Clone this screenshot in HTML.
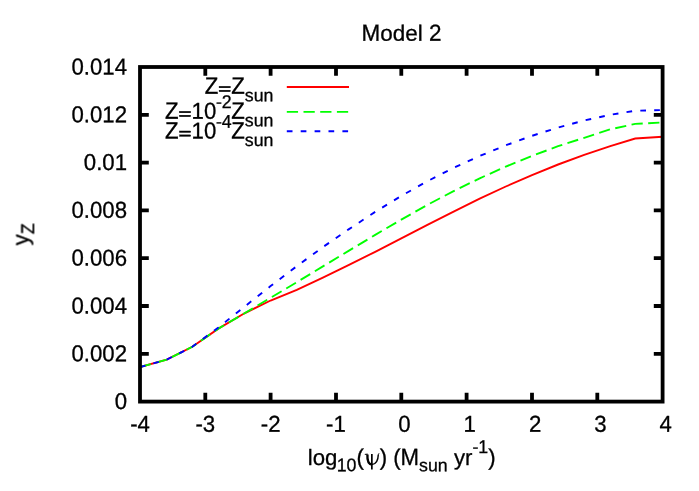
<!DOCTYPE html>
<html><head><meta charset="utf-8"><title>Model 2</title>
<style>
html,body{margin:0;padding:0;background:#fff;}
body{width:699px;height:491px;overflow:hidden;font-family:"Liberation Sans",sans-serif;}
svg{display:block;will-change:transform;}
text{font-kerning:none;white-space:pre;text-rendering:geometricPrecision;}
</style></head><body>
<svg width="699" height="491" viewBox="0 0 699 491">
<defs><clipPath id="c"><rect x="140.0" y="67.0" width="522.6" height="334.6"/></clipPath></defs>
<rect x="0" y="0" width="699" height="491" fill="#fff"/>
<g fill="none" stroke-width="1.9" clip-path="url(#c)">
<path d="M140.0,367.1 L166.7,359.6 L192.3,346.8 L218.4,328.6 L244.5,313.3 L270.6,300.5 L296.8,289.8 L322.9,277.6 L349.0,264.9 L375.2,251.8 L401.3,238.4 L427.4,224.9 L453.6,211.6 L479.7,198.7 L505.8,186.5 L532.0,175.1 L558.1,164.5 L584.2,154.9 L610.3,146.2 L635.2,138.5 L662.6,136.8" stroke="#ff0000"/>
<path d="M140.0,367.1 L166.7,359.6 L192.3,346.8 L218.4,328.6 L244.5,313.3 L270.6,297.8 L296.8,282.2 L322.9,266.4 L349.0,250.6 L375.2,234.9 L401.3,219.6 L427.4,204.9 L453.6,191.1 L479.7,178.3 L505.8,166.6 L532.0,155.9 L558.1,146.2 L584.2,137.8 L610.3,129.3 L635.2,123.9 L662.6,122.5" stroke="#00ff00" stroke-dasharray="11.26 5.44"/>
<path d="M140.0,367.1 L166.7,359.6 L192.3,346.8 L218.4,327.4 L244.5,306.7 L270.6,286.1 L296.8,266.2 L322.9,247.1 L349.0,229.1 L375.2,211.9 L401.3,195.9 L427.4,181.2 L453.6,167.9 L479.7,156.0 L505.8,145.3 L532.0,135.8 L558.1,127.5 L584.2,120.5 L610.3,114.8 L635.2,110.7 L662.6,110.1" stroke="#0000ff" stroke-dasharray="5.7 8.2"/>
</g>
<g fill="none" stroke-width="1.9">
<path d="M286.8,86.95 H349" stroke="#ff0000"/>
<path d="M286.8,111.9 H349" stroke="#00ff00" stroke-dasharray="11.26 5.44"/>
<path d="M286.8,131.3 H349" stroke="#0000ff" stroke-dasharray="5.7 8.2"/>
</g>
<g stroke="#000" stroke-width="3.80" fill="none" stroke-linecap="butt">
<rect x="140.0" y="67.0" width="522.6" height="334.6"/>
<path d="M205.3,401.6 V392.8 M205.3,67.0 V75.8"/>
<path d="M270.6,401.6 V392.8 M270.6,67.0 V75.8"/>
<path d="M336.0,401.6 V392.8 M336.0,67.0 V75.8"/>
<path d="M401.3,401.6 V392.8 M401.3,67.0 V75.8"/>
<path d="M466.6,401.6 V392.8 M466.6,67.0 V75.8"/>
<path d="M532.0,401.6 V392.8 M532.0,67.0 V75.8"/>
<path d="M597.3,401.6 V392.8 M597.3,67.0 V75.8"/>
<path d="M140.0,353.8 H148.8 M662.6,353.8 H653.8"/>
<path d="M140.0,306.0 H148.8 M662.6,306.0 H653.8"/>
<path d="M140.0,258.2 H148.8 M662.6,258.2 H653.8"/>
<path d="M140.0,210.4 H148.8 M662.6,210.4 H653.8"/>
<path d="M140.0,162.6 H148.8 M662.6,162.6 H653.8"/>
<path d="M140.0,114.8 H148.8 M662.6,114.8 H653.8"/>
</g>
<g opacity="0.999" font-family="'Liberation Sans', sans-serif" font-size="22.2" fill="#000" stroke="#000" stroke-width="0.3">
<g transform="translate(140.00,431.80)"><text transform="translate(-9.87,0.00) rotate(0.05) scale(1,1.035)" font-size="22.20">-4</text></g>
<g transform="translate(205.32,431.80)"><text transform="translate(-9.87,0.00) rotate(0.05) scale(1,1.035)" font-size="22.20">-3</text></g>
<g transform="translate(270.65,431.80)"><text transform="translate(-9.87,0.00) rotate(0.05) scale(1,1.035)" font-size="22.20">-2</text></g>
<g transform="translate(335.98,431.80)"><text transform="translate(-9.87,0.00) rotate(0.05) scale(1,1.035)" font-size="22.20">-1</text></g>
<g transform="translate(404.40,431.80)"><text transform="translate(-6.17,0.00) rotate(0.05) scale(1,1.035)" font-size="22.20">0</text></g>
<g transform="translate(469.73,431.80)"><text transform="translate(-6.17,0.00) rotate(0.05) scale(1,1.035)" font-size="22.20">1</text></g>
<g transform="translate(535.05,431.80)"><text transform="translate(-6.17,0.00) rotate(0.05) scale(1,1.035)" font-size="22.20">2</text></g>
<g transform="translate(600.38,431.80)"><text transform="translate(-6.17,0.00) rotate(0.05) scale(1,1.035)" font-size="22.20">3</text></g>
<g transform="translate(665.70,431.80)"><text transform="translate(-6.17,0.00) rotate(0.05) scale(1,1.035)" font-size="22.20">4</text></g>
<g transform="translate(127.00,409.00)"><text transform="translate(-12.35,0.00) rotate(0.05) scale(1,1.035)" font-size="22.20">0</text></g>
<g transform="translate(127.00,361.20)"><text transform="translate(-55.55,0.00) rotate(0.05) scale(1,1.035)" font-size="22.20">0.002</text></g>
<g transform="translate(127.00,313.40)"><text transform="translate(-55.55,0.00) rotate(0.05) scale(1,1.035)" font-size="22.20">0.004</text></g>
<g transform="translate(127.00,265.60)"><text transform="translate(-55.55,0.00) rotate(0.05) scale(1,1.035)" font-size="22.20">0.006</text></g>
<g transform="translate(127.00,217.80)"><text transform="translate(-55.55,0.00) rotate(0.05) scale(1,1.035)" font-size="22.20">0.008</text></g>
<g transform="translate(127.00,170.00)"><text transform="translate(-43.21,0.00) rotate(0.05) scale(1,1.035)" font-size="22.20">0.01</text></g>
<g transform="translate(127.00,122.20)"><text transform="translate(-55.55,0.00) rotate(0.05) scale(1,1.035)" font-size="22.20">0.012</text></g>
<g transform="translate(127.00,74.40)"><text transform="translate(-55.55,0.00) rotate(0.05) scale(1,1.035)" font-size="22.20">0.014</text></g>
<g transform="translate(401.50,40.70)"><text transform="translate(-39.93,0.00) rotate(0.05) scale(1,1.04)" font-size="22.45">M</text><text transform="translate(-21.23,0.00) rotate(0.05) scale(1,0.985)" font-size="22.45">odel </text><text transform="translate(27.45,0.00) rotate(0.05) scale(1,1.03)" font-size="22.45">2</text></g>
<g transform="translate(401.30,465.00)"><text transform="translate(-93.56,0.00) rotate(0.05) scale(1,1)" font-size="22.20">log</text><text transform="translate(-64.64,6.20) rotate(0.05) scale(1,1.035)" font-size="17.76">10</text><text transform="translate(-44.88,0.00) rotate(0.05) scale(1,1.03)" font-size="22.20">(</text><g transform="translate(-37.49,0)" fill="none" stroke="#000"><path d="M8.05,-10.9 V4.5" stroke-width="1.7"/><path d="M3.6,-10.6 C3.3,-3.6 4.9,-0.7 8.0,-0.5" stroke-width="2.4"/><path d="M1.0,-10.6 L3.9,-10.9" stroke-width="1"/><path d="M8.0,-0.5 C11.4,-0.8 14.3,-3.8 14.5,-10.6" stroke-width="1.45"/><path d="M14.2,-10.7 L15.5,-11.3" stroke-width="1"/></g><text transform="translate(-21.66,0.00) rotate(0.05) scale(1,1.03)" font-size="22.20">) (</text><text transform="translate(-0.71,0.00) rotate(0.05) scale(1,1.06)" font-size="22.20">M</text><text transform="translate(17.78,6.20) rotate(0.05) scale(1,1)" font-size="17.76">sun</text><text transform="translate(46.42,0.00) rotate(0.05) scale(1,1)" font-size="22.20"> yr</text><text transform="translate(71.08,-12.10) rotate(0.05) scale(1,1.035)" font-size="17.76">-1</text><text transform="translate(86.87,0.00) rotate(0.05) scale(1,1.03)" font-size="22.20">)</text></g>
<g transform="translate(28.50,234.40) rotate(-90)"><text transform="translate(-10.97,0.00) rotate(0.05) scale(1,1.035)" font-size="22.20">y</text><text transform="translate(0.13,5.45) rotate(0.05) scale(1,1.035)" font-size="17.76">Z</text></g>
<g transform="translate(273.50,93.80)"><text transform="translate(-68.72,0.00) rotate(0.05) scale(1,1.06)" font-size="22.20">Z</text><rect x="-54.46" y="-7.55" width="11.4" height="1.6"/><rect x="-54.46" y="-3.65" width="11.4" height="1.6"/><text transform="translate(-42.20,0.00) rotate(0.05) scale(1,1.06)" font-size="22.20">Z</text><text transform="translate(-28.63,7.50) rotate(0.05) scale(1,1)" font-size="17.76">sun</text></g>
<g transform="translate(273.50,118.80)"><text transform="translate(-108.40,0.00) rotate(0.05) scale(1,1.06)" font-size="22.20">Z</text><rect x="-94.14" y="-7.55" width="11.4" height="1.6"/><rect x="-94.14" y="-3.65" width="11.4" height="1.6"/><text transform="translate(-81.88,0.00) rotate(0.05) scale(1,1.035)" font-size="22.20">10</text><text transform="translate(-57.59,-10.80) rotate(0.05) scale(1,1.035)" font-size="17.76">-2</text><text transform="translate(-42.20,0.00) rotate(0.05) scale(1,1.06)" font-size="22.20">Z</text><text transform="translate(-28.63,7.50) rotate(0.05) scale(1,1)" font-size="17.76">sun</text></g>
<g transform="translate(273.50,138.50)"><text transform="translate(-108.40,0.00) rotate(0.05) scale(1,1.06)" font-size="22.20">Z</text><rect x="-94.14" y="-7.55" width="11.4" height="1.6"/><rect x="-94.14" y="-3.65" width="11.4" height="1.6"/><text transform="translate(-81.88,0.00) rotate(0.05) scale(1,1.035)" font-size="22.20">10</text><text transform="translate(-57.59,-10.80) rotate(0.05) scale(1,1.035)" font-size="17.76">-4</text><text transform="translate(-42.20,0.00) rotate(0.05) scale(1,1.06)" font-size="22.20">Z</text><text transform="translate(-28.63,7.50) rotate(0.05) scale(1,1)" font-size="17.76">sun</text></g>
</g>
</svg>
</body></html>
